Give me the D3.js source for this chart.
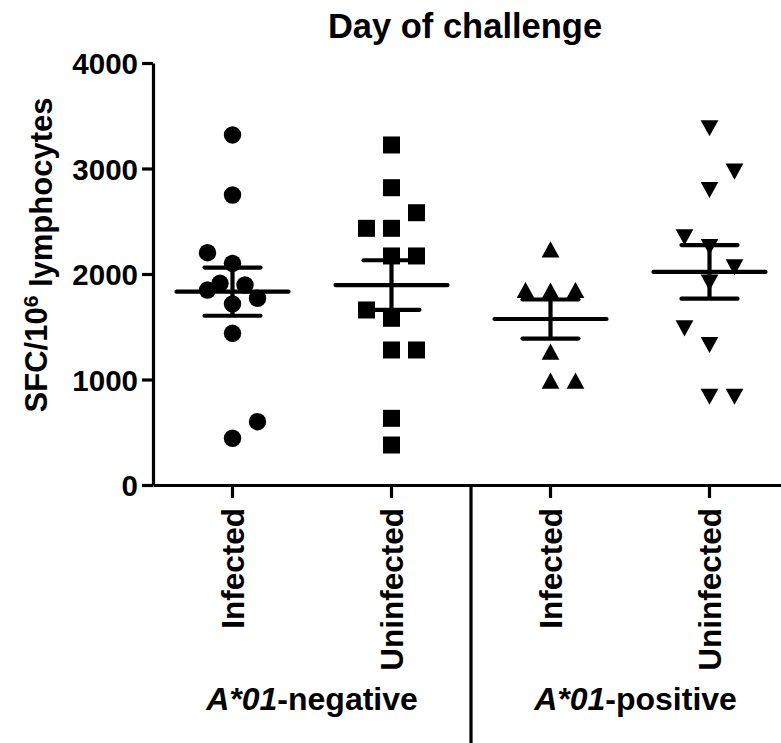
<!DOCTYPE html>
<html>
<head>
<meta charset="utf-8">
<script src="https://cdn.jsdelivr.net/npm/d3@7"></script>
<style>
  html, body { margin: 0; padding: 0; background: #fff; }
  svg { display: block; }
  text { font-family: "Liberation Sans", Arial, sans-serif; font-weight: bold; fill: #000; }
</style>
</head>
<body>
<svg id="chart" width="781" height="743"></svg>
<script>
// ---------- data ----------
const groups = ["negInfected", "negUninfected", "posInfected", "posUninfected"];
const tickLabels = ["Infected", "Uninfected", "Infected", "Uninfected"];
const groupLabels = ["-negative", "-positive"];
const groupLabelPrefix = "A*01";
const yTicks = [0, 1000, 2000, 3000, 4000];
const chartTitle = "Day of challenge";

// SFC/10^6 lymphocytes per animal
const negInfected   = [3318, 2749, 2202, 2101, 1912, 1896, 1848, 1770, 1716, 1438, 600, 443];
const negInfectedCol = [0, 0, -2, 0, -1, 1, -2, 2, 0, 0, 2, 0];
const negUninfected = [3223, 2818, 2581, 2433, 2433, 2171, 2171, 1659, 1580, 1280, 1280, 632, 379];
const negUninfectedCol = [0, 0, 2, -2, 0, 0, 2, -2, 0, 0, 2, 0, 0];
const posInfected   = [2234, 1848, 1842, 1848, 1264, 989, 989];
const posInfectedCol = [0, -2, 0, 2, 0, 0, 2];
const posUninfected = [3381, 2970, 2796, 2348, 2256, 2063, 1918, 1485, 1327, 837, 837];
const posUninfectedCol = [0, 2, 0, -2, 0, 2, 0, -2, 0, 0, 2];

const seriesValues = [negInfected, negUninfected, posInfected, posUninfected];
const seriesCols = [negInfectedCol, negUninfectedCol, posInfectedCol, posUninfectedCol];

// ---------- layout ----------
const svg = d3.select("#chart");
const W = 781, H = 743;
const mLeft = 153, mTop = 63, mBottom = 485;

const x = d3.scaleBand().domain(groups).range([mLeft, 789]).paddingInner(0).paddingOuter(0);
const jitter = d3.scaleLinear().domain([-2, 2]).range([-25, 25]);
const y = d3.scaleLinear().domain([0, 4000]).range([mBottom, mTop]);

// custom symbols (bbox-centred triangles)
const triUp = { draw(ctx, size) { const w = Math.sqrt(size) * 1.06, h = w * 0.91;
  ctx.moveTo(0, -h/2); ctx.lineTo(w/2, h/2); ctx.lineTo(-w/2, h/2); ctx.closePath(); } };
const triDown = { draw(ctx, size) { const w = Math.sqrt(size) * 1.06, h = w * 0.91;
  ctx.moveTo(0, h/2); ctx.lineTo(w/2, -h/2); ctx.lineTo(-w/2, -h/2); ctx.closePath(); } };
const symbolTypes = [d3.symbolCircle, d3.symbolSquare, triUp, triDown];
const symbolSizes = [238, 289, 280, 280];

// ---------- axes ----------
const yAxis = d3.axisLeft(y).tickValues(yTicks).tickFormat(d3.format("d"))
  .tickSize(11).tickSizeOuter(0).tickPadding(4);
const gy = svg.append("g").attr("transform", `translate(${mLeft},0)`).call(yAxis);
gy.selectAll("path, line").attr("stroke", "#000").attr("stroke-width", 3.2);
gy.selectAll("text").style("font-size", "29.5px").attr("dy", "0.36em");

const xAxis = d3.axisBottom(x).tickFormat((d, i) => tickLabels[i])
  .tickSize(13).tickSizeOuter(0).tickPadding(10);
const gx = svg.append("g").attr("transform", `translate(0,${mBottom})`).call(xAxis);
gx.selectAll("path, line").attr("stroke", "#000").attr("stroke-width", 3.2);
gx.selectAll("text")
  .style("font-size", "31.5px")
  .attr("text-anchor", "end")
  .attr("transform", "rotate(-90)")
  .attr("x", -23).attr("y", 0).attr("dy", "0.36em");

// divider between the two A*01 groups
const divX = x(groups[2]);
svg.append("line").attr("x1", divX).attr("x2", divX).attr("y1", mBottom).attr("y2", H)
  .attr("stroke", "#000").attr("stroke-width", 3.2);

// ---------- points ----------
groups.forEach((g, gi) => {
  const cx = x(g) + x.bandwidth() / 2;
  const vals = seriesValues[gi], cols = seriesCols[gi];
  const sym = d3.symbol().type(symbolTypes[gi]).size(symbolSizes[gi]);
  svg.append("g").selectAll("path").data(vals).join("path")
    .attr("d", sym)
    .attr("transform", (d, i) => `translate(${cx + jitter(cols[i]) - jitter(0)},${y(d)})`)
    .attr("fill", "#000");

  const mean = d3.mean(vals);
  const sem = d3.deviation(vals) / Math.sqrt(vals.length);
  const gl = svg.append("g").attr("stroke", "#000").attr("stroke-width", 4.2).attr("stroke-linecap", "round");
  gl.append("line").attr("x1", cx - 56).attr("x2", cx + 56).attr("y1", y(mean)).attr("y2", y(mean));
  gl.append("line").attr("x1", cx - 28).attr("x2", cx + 28).attr("y1", y(mean + sem)).attr("y2", y(mean + sem));
  gl.append("line").attr("x1", cx - 28).attr("x2", cx + 28).attr("y1", y(mean - sem)).attr("y2", y(mean - sem));
  gl.append("line").attr("x1", cx).attr("x2", cx).attr("y1", y(mean + sem)).attr("y2", y(mean - sem)).attr("stroke-linecap", "butt");
});

// ---------- group labels (centred on each section) ----------
const sectionEdges = [[mLeft, divX], [divX, 800]];
groupLabels.forEach((lab, i) => {
  const cx = (sectionEdges[i][0] + sectionEdges[i][1]) / 2;
  const t = svg.append("text").attr("x", cx).attr("y", 710).attr("text-anchor", "middle").style("font-size", "32px");
  t.append("tspan").style("font-style", "italic").text(groupLabelPrefix);
  t.append("tspan").text(lab);
});

// ---------- title ----------
svg.append("text").attr("x", 465).attr("y", 38).attr("text-anchor", "middle")
  .style("font-size", "34.5px").text(chartTitle);

// ---------- y label ----------
const yl = svg.append("text").attr("transform", `translate(47,255) rotate(-90)`)
  .attr("text-anchor", "middle").style("font-size", "31px");
yl.append("tspan").text("SFC/10");
yl.append("tspan").attr("dy", "-0.45em").style("font-size", "21px").text("6");
yl.append("tspan").attr("dy", "0.45em").text(" lymphocytes");
</script>
</body>
</html>
